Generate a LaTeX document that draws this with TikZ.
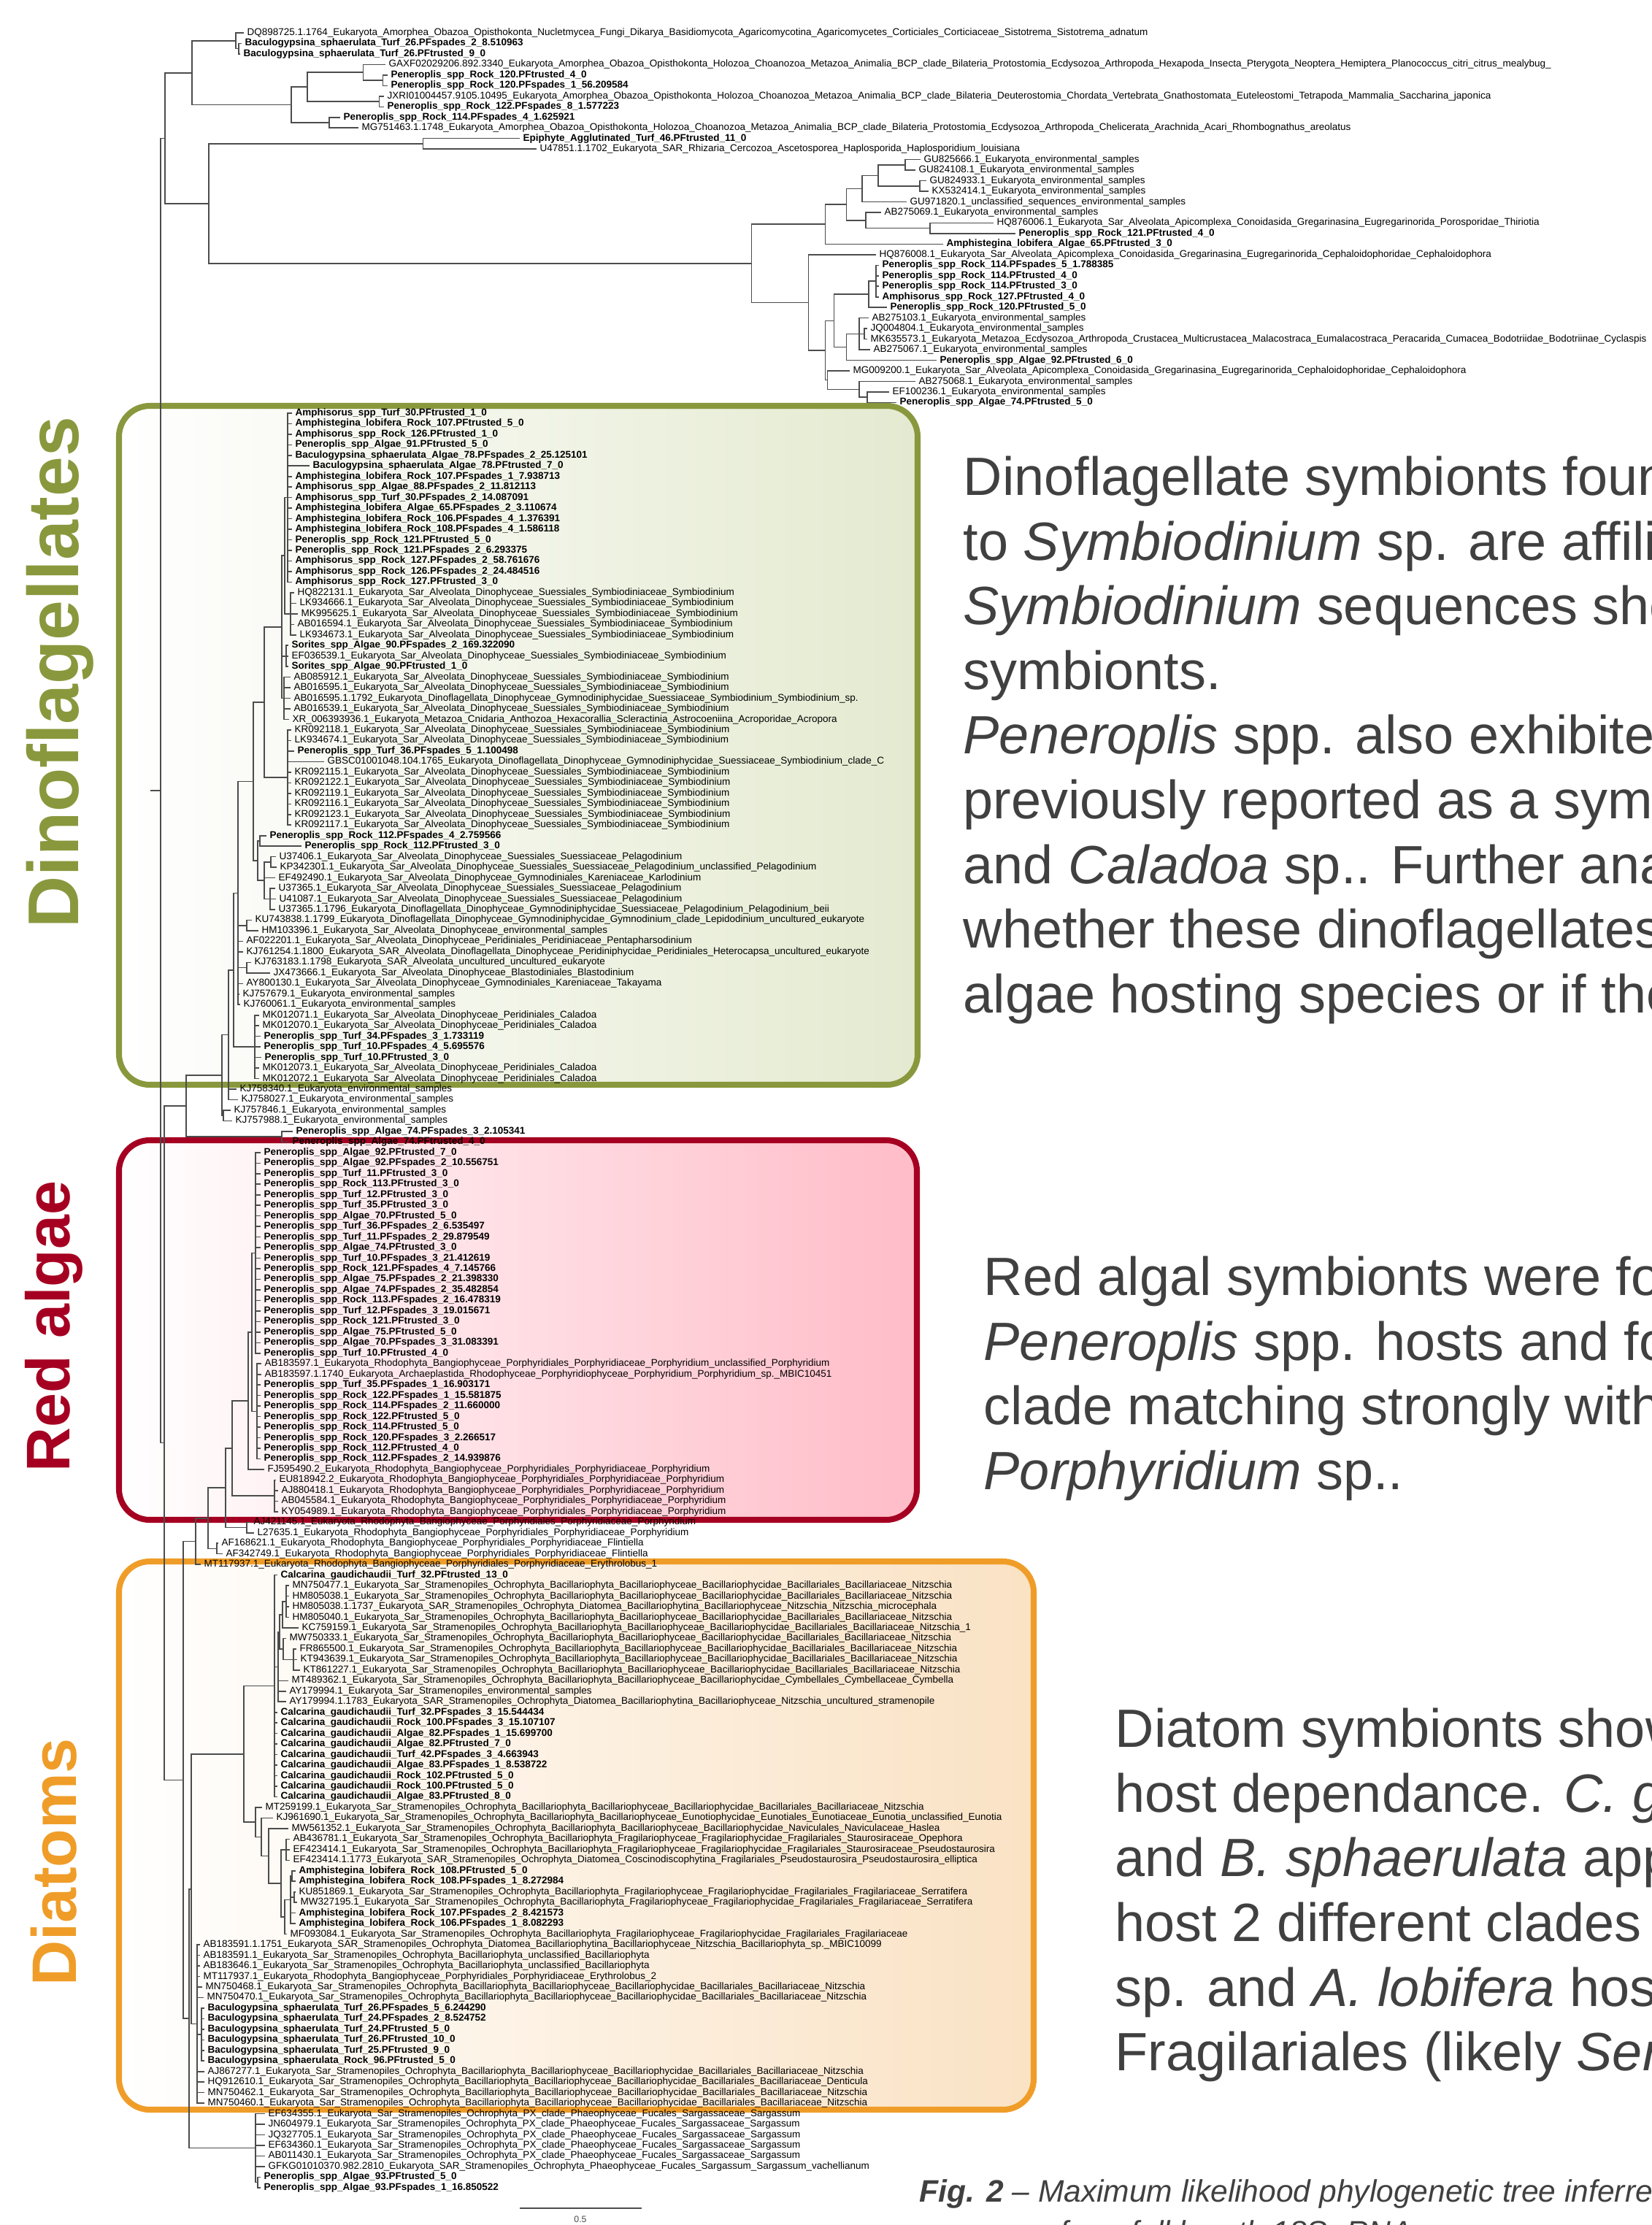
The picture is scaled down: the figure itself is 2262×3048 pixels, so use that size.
\documentclass[tikz,border=0pt]{standalone}
\usepackage{fontspec}
\setmainfont{Liberation Sans}
\usetikzlibrary{calc}

\definecolor{dinoline}{RGB}{137,152,61}
\definecolor{dinofill}{RGB}{228,234,208}
\definecolor{redline}{RGB}{165,0,33}
\definecolor{redfill}{RGB}{255,188,200}
\definecolor{dialine}{RGB}{239,157,40}
\definecolor{diafill}{RGB}{250,226,196}
\definecolor{textgray}{RGB}{64,64,64}

\tikzset{
  branch/.style={draw=black!70, line width=0.45pt},
  tipn/.style={anchor=west, inner sep=0pt, xshift=1.1pt, font=\fontsize{3.84}{4.6}\selectfont},
  tipb/.style={tipn, font=\fontsize{3.84}{4.6}\selectfont\bfseries},
  bigtext/.style={anchor=base west, inner sep=0pt, text=textgray, font=\fontsize{21}{25}\selectfont},
  captext/.style={anchor=base west, inner sep=0pt, text=textgray, font=\fontsize{12.1}{14}\selectfont\itshape},
  sidelab/.style={rotate=90, inner sep=0pt, font=\fontsize{28}{30}\selectfont\bfseries},
  scalelab/.style={inner sep=0pt, text=black!70, font=\fontsize{3.5}{4}\selectfont},
}

% tip: index, x of branch end, style, label
\newcommand\tip[4]{%
  \coordinate (t#1) at (#2,{45+(#1-1)*14.47});
  \node[#3] (l#1) at (t#1) {#4};}

% clade: name, x, children (first and last give the height)
\newcommand\clade[3]{%
  \foreach \cn [count=\ci] in {#3}{\ifnum\ci=1 \xdef\cladefirst{\cn}\fi\xdef\cladelast{\cn}}%
  \path let \p1=(\cladefirst), \p2=(\cladelast) in
    coordinate (#1) at ({#2*0.2845276pt},{(\y1+\y2)/2});
  \foreach \cn in {#3}{\draw[branch] (#1) |- (\cn);}}

\catcode`\_=12
\newcommand\EkEnv{Eukaryota_environmental_samples}
\newcommand\EkSym{Eukaryota_Sar_Alveolata_Dinophyceae_Suessiales_Symbiodiniaceae_Symbiodinium}
\newcommand\EkCal{Eukaryota_Sar_Alveolata_Dinophyceae_Peridiniales_Caladoa}
\newcommand\EkPor{Eukaryota_Rhodophyta_Bangiophyceae_Porphyridiales_Porphyridiaceae}
\newcommand\EkBac{Eukaryota_Sar_Stramenopiles_Ochrophyta_Bacillariophyta_Bacillariophyceae_Bacillariophycidae_Bacillariales_Bacillariaceae}
\newcommand\EkFra{Eukaryota_Sar_Stramenopiles_Ochrophyta_Bacillariophyta_Fragilariophyceae_Fragilariophycidae_Fragilariales}
\newcommand\EkSar{Eukaryota_Sar_Stramenopiles_Ochrophyta_PX_clade_Phaeophyceae_Fucales_Sargassaceae_Sargassum}

\begin{document}
\begin{tikzpicture}[x=0.01cm,y=-0.01cm]
\useasboundingbox (0,0) rectangle (2262,3048);
\clip (0,0) rectangle (2262,3048);
\fill[white] (0,0) rectangle (2262,3048);

% boxes
\shade[left color=white, right color=dinofill, rounded corners=12pt] (163,556) rectangle (1257,1486);
\draw[dinoline, line width=2.3pt, rounded corners=12pt] (163,556) rectangle (1257,1486);
\shade[left color=white, right color=redfill, rounded corners=12pt] (163,1562) rectangle (1256,2082);
\draw[redline, line width=2.3pt, rounded corners=12pt] (163,1562) rectangle (1256,2082);
\shade[left color=white, right color=diafill, rounded corners=12pt] (163,2139) rectangle (1416,2890);
\draw[dialine, line width=2.3pt, rounded corners=12pt] (163,2139) rectangle (1416,2890);

\node[sidelab, text=dinoline] (labDino) at (82,921) {Dinoflagellates};
\node[sidelab, text=redline, font=\fontsize{24}{26}\selectfont\bfseries] (labRed) at (74,1817) {Red algae};
\node[sidelab, text=dialine, font=\fontsize{24.5}{26}\selectfont\bfseries] (labDia) at (74,2551) {Diatoms};

% tips
\tip{1}{334}{tipn}{DQ898725.1.1764_Eukaryota_Amorphea_Obazoa_Opisthokonta_Nucletmycea_Fungi_Dikarya_Basidiomycota_Agaricomycotina_Agaricomycetes_Corticiales_Corticiaceae_Sistotrema_Sistotrema_adnatum}
\tip{2}{331}{tipb}{Baculogypsina_sphaerulata_Turf_26.PFspades_2_8.510963}
\tip{3}{329}{tipb}{Baculogypsina_sphaerulata_Turf_26.PFtrusted_9_0}
\tip{4}{528}{tipn}{GAXF02029206.892.3340_Eukaryota_Amorphea_Obazoa_Opisthokonta_Holozoa_Choanozoa_Metazoa_Animalia_BCP_clade_Bilateria_Protostomia_Ecdysozoa_Arthropoda_Hexapoda_Insecta_Pterygota_Neoptera_Hemiptera_Planococcus_citri_citrus_mealybug_}
\tip{5}{531}{tipb}{Peneroplis_spp_Rock_120.PFtrusted_4_0}
\tip{6}{531}{tipb}{Peneroplis_spp_Rock_120.PFspades_1_56.209584}
\tip{7}{526}{tipn}{JXRI01004457.9105.10495_Eukaryota_Amorphea_Obazoa_Opisthokonta_Holozoa_Choanozoa_Metazoa_Animalia_BCP_clade_Bilateria_Deuterostomia_Chordata_Vertebrata_Gnathostomata_Euteleostomi_Tetrapoda_Mammalia_Saccharina_japonica}
\tip{8}{526}{tipb}{Peneroplis_spp_Rock_122.PFspades_8_1.577223}
\tip{9}{466}{tipb}{Peneroplis_spp_Rock_114.PFspades_4_1.625921}
\tip{10}{491}{tipn}{MG751463.1.1748_Eukaryota_Amorphea_Obazoa_Opisthokonta_Holozoa_Choanozoa_Metazoa_Animalia_BCP_clade_Bilateria_Protostomia_Ecdysozoa_Arthropoda_Chelicerata_Arachnida_Acari_Rhombognathus_areolatus}
\tip{11}{712}{tipb}{Epiphyte_Agglutinated_Turf_46.PFtrusted_11_0}
\tip{12}{735}{tipn}{U47851.1.1702_Eukaryota_SAR_Rhizaria_Cercozoa_Ascetosporea_Haplosporida_Haplosporidium_louisiana}
\tip{13}{1261}{tipn}{GU825666.1_\EkEnv}
\tip{14}{1254}{tipn}{GU824108.1_\EkEnv}
\tip{15}{1269}{tipn}{GU824933.1_\EkEnv}
\tip{16}{1272}{tipn}{KX532414.1_\EkEnv}
\tip{17}{1242}{tipn}{GU971820.1_unclassified_sequences_environmental_samples}
\tip{18}{1207}{tipn}{AB275069.1_\EkEnv}
\tip{19}{1361}{tipn}{HQ876006.1_Eukaryota_Sar_Alveolata_Apicomplexa_Conoidasida_Gregarinasina_Eugregarinorida_Porosporidae_Thiriotia}
\tip{20}{1391}{tipb}{Peneroplis_spp_Rock_121.PFtrusted_4_0}
\tip{21}{1292}{tipb}{Amphistegina_lobifera_Algae_65.PFtrusted_3_0}
\tip{22}{1200}{tipn}{HQ876008.1_Eukaryota_Sar_Alveolata_Apicomplexa_Conoidasida_Gregarinasina_Eugregarinorida_Cephaloidophoridae_Cephaloidophora}
\tip{23}{1204}{tipb}{Peneroplis_spp_Rock_114.PFspades_5_1.788385}
\tip{24}{1204}{tipb}{Peneroplis_spp_Rock_114.PFtrusted_4_0}
\tip{25}{1204}{tipb}{Peneroplis_spp_Rock_114.PFtrusted_3_0}
\tip{26}{1204}{tipb}{Amphisorus_spp_Rock_127.PFtrusted_4_0}
\tip{27}{1215}{tipb}{Peneroplis_spp_Rock_120.PFtrusted_5_0}
\tip{28}{1190}{tipn}{AB275103.1_\EkEnv}
\tip{29}{1188}{tipn}{JQ004804.1_\EkEnv}
\tip{30}{1188}{tipn}{MK635573.1_Eukaryota_Metazoa_Ecdysozoa_Arthropoda_Crustacea_Multicrustacea_Malacostraca_Eumalacostraca_Peracarida_Cumacea_Bodotriidae_Bodotriinae_Cyclaspis}
\tip{31}{1192}{tipn}{AB275067.1_\EkEnv}
\tip{32}{1283}{tipb}{Peneroplis_spp_Algae_92.PFtrusted_6_0}
\tip{33}{1164}{tipn}{MG009200.1_Eukaryota_Sar_Alveolata_Apicomplexa_Conoidasida_Gregarinasina_Eugregarinorida_Cephaloidophoridae_Cephaloidophora}
\tip{34}{1254}{tipn}{AB275068.1_\EkEnv}
\tip{35}{1218}{tipn}{EF100236.1_\EkEnv}
\tip{36}{1228}{tipb}{Peneroplis_spp_Algae_74.PFtrusted_5_0}
\tip{37}{400}{tipb}{Amphisorus_spp_Turf_30.PFtrusted_1_0}
\tip{38}{400}{tipb}{Amphistegina_lobifera_Rock_107.PFtrusted_5_0}
\tip{39}{400}{tipb}{Amphisorus_spp_Rock_126.PFtrusted_1_0}
\tip{40}{400}{tipb}{Peneroplis_spp_Algae_91.PFtrusted_5_0}
\tip{41}{400}{tipb}{Baculogypsina_sphaerulata_Algae_78.PFspades_2_25.125101}
\tip{42}{424}{tipb}{Baculogypsina_sphaerulata_Algae_78.PFtrusted_7_0}
\tip{43}{400}{tipb}{Amphistegina_lobifera_Rock_107.PFspades_1_7.938713}
\tip{44}{400}{tipb}{Amphisorus_spp_Algae_88.PFspades_2_11.812113}
\tip{45}{400}{tipb}{Amphisorus_spp_Turf_30.PFspades_2_14.087091}
\tip{46}{400}{tipb}{Amphistegina_lobifera_Algae_65.PFspades_2_3.110674}
\tip{47}{400}{tipb}{Amphistegina_lobifera_Rock_106.PFspades_4_1.376391}
\tip{48}{400}{tipb}{Amphistegina_lobifera_Rock_108.PFspades_4_1.586118}
\tip{49}{400}{tipb}{Peneroplis_spp_Rock_121.PFtrusted_5_0}
\tip{50}{400}{tipb}{Peneroplis_spp_Rock_121.PFspades_2_6.293375}
\tip{51}{400}{tipb}{Amphisorus_spp_Rock_127.PFspades_2_58.761676}
\tip{52}{400}{tipb}{Amphisorus_spp_Rock_126.PFspades_2_24.484516}
\tip{53}{400}{tipb}{Amphisorus_spp_Rock_127.PFtrusted_3_0}
\tip{54}{403}{tipn}{HQ822131.1_\EkSym}
\tip{55}{406}{tipn}{LK934666.1_\EkSym}
\tip{56}{408}{tipn}{MK995625.1_\EkSym}
\tip{57}{403}{tipn}{AB016594.1_\EkSym}
\tip{58}{406}{tipn}{LK934673.1_\EkSym}
\tip{59}{395}{tipb}{Sorites_spp_Algae_90.PFspades_2_169.322090}
\tip{60}{395}{tipn}{EF036539.1_\EkSym}
\tip{61}{395}{tipb}{Sorites_spp_Algae_90.PFtrusted_1_0}
\tip{62}{398}{tipn}{AB085912.1_\EkSym}
\tip{63}{398}{tipn}{AB016595.1_\EkSym}
\tip{64}{398}{tipn}{AB016595.1.1792_Eukaryota_Dinoflagellata_Dinophyceae_Gymnodiniphycidae_Suessiaceae_Symbiodinium_Symbiodinium_sp.}
\tip{65}{398}{tipn}{AB016539.1_\EkSym}
\tip{66}{396}{tipn}{XR_006393936.1_Eukaryota_Metazoa_Cnidaria_Anthozoa_Hexacorallia_Scleractinia_Astrocoeniina_Acroporidae_Acropora}
\tip{67}{399}{tipn}{KR092118.1_\EkSym}
\tip{68}{399}{tipn}{LK934674.1_\EkSym}
\tip{69}{403}{tipb}{Peneroplis_spp_Turf_36.PFspades_5_1.100498}
\tip{70}{444}{tipn}{GBSC01001048.104.1765_Eukaryota_Dinoflagellata_Dinophyceae_Gymnodiniphycidae_Suessiaceae_Symbiodinium_clade_C}
\tip{71}{399}{tipn}{KR092115.1_\EkSym}
\tip{72}{399}{tipn}{KR092122.1_\EkSym}
\tip{73}{399}{tipn}{KR092119.1_\EkSym}
\tip{74}{399}{tipn}{KR092116.1_\EkSym}
\tip{75}{399}{tipn}{KR092123.1_\EkSym}
\tip{76}{399}{tipn}{KR092117.1_\EkSym}
\tip{77}{365}{tipb}{Peneroplis_spp_Rock_112.PFspades_4_2.759566}
\tip{78}{413}{tipb}{Peneroplis_spp_Rock_112.PFtrusted_3_0}
\tip{79}{378}{tipn}{U37406.1_Eukaryota_Sar_Alveolata_Dinophyceae_Suessiales_Suessiaceae_Pelagodinium}
\tip{80}{379}{tipn}{KP342301.1_Eukaryota_Sar_Alveolata_Dinophyceae_Suessiales_Suessiaceae_Pelagodinium_unclassified_Pelagodinium}
\tip{81}{377}{tipn}{EF492490.1_Eukaryota_Sar_Alveolata_Dinophyceae_Gymnodiniales_Kareniaceae_Karlodinium}
\tip{82}{377}{tipn}{U37365.1_Eukaryota_Sar_Alveolata_Dinophyceae_Suessiales_Suessiaceae_Pelagodinium}
\tip{83}{378}{tipn}{U41087.1_Eukaryota_Sar_Alveolata_Dinophyceae_Suessiales_Suessiaceae_Pelagodinium}
\tip{84}{377}{tipn}{U37365.1.1796_Eukaryota_Dinoflagellata_Dinophyceae_Gymnodiniphycidae_Suessiaceae_Pelagodinium_Pelagodinium_beii}
\tip{85}{345}{tipn}{KU743838.1.1799_Eukaryota_Dinoflagellata_Dinophyceae_Gymnodiniphycidae_Gymnodinium_clade_Lepidodinium_uncultured_eukaryote}
\tip{86}{354}{tipn}{HM103396.1_Eukaryota_Sar_Alveolata_Dinophyceae_environmental_samples}
\tip{87}{333}{tipn}{AF022201.1_Eukaryota_Sar_Alveolata_Dinophyceae_Peridiniales_Peridiniaceae_Pentapharsodinium}
\tip{88}{333}{tipn}{KJ761254.1.1800_Eukaryota_SAR_Alveolata_Dinoflagellata_Dinophyceae_Peridiniphycidae_Peridiniales_Heterocapsa_uncultured_eukaryote}
\tip{89}{344}{tipn}{KJ763183.1.1798_Eukaryota_SAR_Alveolata_uncultured_uncultured_eukaryote}
\tip{90}{370}{tipn}{JX473666.1_Eukaryota_Sar_Alveolata_Dinophyceae_Blastodiniales_Blastodinium}
\tip{91}{333}{tipn}{AY800130.1_Eukaryota_Sar_Alveolata_Dinophyceae_Gymnodiniales_Kareniaceae_Takayama}
\tip{92}{328}{tipn}{KJ757679.1_\EkEnv}
\tip{93}{329}{tipn}{KJ760061.1_\EkEnv}
\tip{94}{355}{tipn}{MK012071.1_\EkCal}
\tip{95}{355}{tipn}{MK012070.1_\EkCal}
\tip{96}{357}{tipb}{Peneroplis_spp_Turf_34.PFspades_3_1.733119}
\tip{97}{357}{tipb}{Peneroplis_spp_Turf_10.PFspades_4_5.695576}
\tip{98}{358}{tipb}{Peneroplis_spp_Turf_10.PFtrusted_3_0}
\tip{99}{355}{tipn}{MK012073.1_\EkCal}
\tip{100}{355}{tipn}{MK012072.1_\EkCal}
\tip{101}{324}{tipn}{KJ758340.1_\EkEnv}
\tip{102}{326}{tipn}{KJ758027.1_\EkEnv}
\tip{103}{316}{tipn}{KJ757846.1_\EkEnv}
\tip{104}{318}{tipn}{KJ757988.1_\EkEnv}
\tip{105}{401}{tipb}{Peneroplis_spp_Algae_74.PFspades_3_2.105341}
\tip{106}{396}{tipb}{Peneroplis_spp_Algae_74.PFtrusted_4_0}
\tip{107}{357}{tipb}{Peneroplis_spp_Algae_92.PFtrusted_7_0}
\tip{108}{357}{tipb}{Peneroplis_spp_Algae_92.PFspades_2_10.556751}
\tip{109}{357}{tipb}{Peneroplis_spp_Turf_11.PFtrusted_3_0}
\tip{110}{357}{tipb}{Peneroplis_spp_Rock_113.PFtrusted_3_0}
\tip{111}{357}{tipb}{Peneroplis_spp_Turf_12.PFtrusted_3_0}
\tip{112}{357}{tipb}{Peneroplis_spp_Turf_35.PFtrusted_3_0}
\tip{113}{357}{tipb}{Peneroplis_spp_Algae_70.PFtrusted_5_0}
\tip{114}{357}{tipb}{Peneroplis_spp_Turf_36.PFspades_2_6.535497}
\tip{115}{357}{tipb}{Peneroplis_spp_Turf_11.PFspades_2_29.879549}
\tip{116}{357}{tipb}{Peneroplis_spp_Algae_74.PFtrusted_3_0}
\tip{117}{357}{tipb}{Peneroplis_spp_Turf_10.PFspades_3_21.412619}
\tip{118}{357}{tipb}{Peneroplis_spp_Rock_121.PFspades_4_7.145766}
\tip{119}{357}{tipb}{Peneroplis_spp_Algae_75.PFspades_2_21.398330}
\tip{120}{357}{tipb}{Peneroplis_spp_Algae_74.PFspades_2_35.482854}
\tip{121}{357}{tipb}{Peneroplis_spp_Rock_113.PFspades_2_16.478319}
\tip{122}{357}{tipb}{Peneroplis_spp_Turf_12.PFspades_3_19.015671}
\tip{123}{357}{tipb}{Peneroplis_spp_Rock_121.PFtrusted_3_0}
\tip{124}{357}{tipb}{Peneroplis_spp_Algae_75.PFtrusted_5_0}
\tip{125}{357}{tipb}{Peneroplis_spp_Algae_70.PFspades_3_31.083391}
\tip{126}{357}{tipb}{Peneroplis_spp_Turf_10.PFtrusted_4_0}
\tip{127}{358}{tipn}{AB183597.1_\EkPor_Porphyridium_unclassified_Porphyridium}
\tip{128}{358}{tipn}{AB183597.1.1740_Eukaryota_Archaeplastida_Rhodophyceae_Porphyridiophyceae_Porphyridium_Porphyridium_sp._MBIC10451}
\tip{129}{357}{tipb}{Peneroplis_spp_Turf_35.PFspades_1_16.903171}
\tip{130}{357}{tipb}{Peneroplis_spp_Rock_122.PFspades_1_15.581875}
\tip{131}{357}{tipb}{Peneroplis_spp_Rock_114.PFspades_2_11.660000}
\tip{132}{357}{tipb}{Peneroplis_spp_Rock_122.PFtrusted_5_0}
\tip{133}{357}{tipb}{Peneroplis_spp_Rock_114.PFtrusted_5_0}
\tip{134}{357}{tipb}{Peneroplis_spp_Rock_120.PFspades_3_2.266517}
\tip{135}{357}{tipb}{Peneroplis_spp_Rock_112.PFtrusted_4_0}
\tip{136}{357}{tipb}{Peneroplis_spp_Rock_112.PFspades_2_14.939876}
\tip{137}{362}{tipn}{FJ595490.2_\EkPor_Porphyridium}
\tip{138}{378}{tipn}{EU818942.2_\EkPor_Porphyridium}
\tip{139}{381}{tipn}{AJ880418.1_\EkPor_Porphyridium}
\tip{140}{381}{tipn}{AB045584.1_\EkPor_Porphyridium}
\tip{141}{381}{tipn}{KY054989.1_\EkPor_Porphyridium}
\tip{142}{343}{tipn}{AJ421145.1_\EkPor_Porphyridium}
\tip{143}{348}{tipn}{L27635.1_\EkPor_Porphyridium}
\tip{144}{299}{tipn}{AF168621.1_\EkPor_Flintiella}
\tip{145}{305}{tipn}{AF342749.1_\EkPor_Flintiella}
\tip{146}{275}{tipn}{MT117937.1_\EkPor_Erythrolobus_1}
\tip{147}{380}{tipb}{Calcarina_gaudichaudii_Turf_32.PFtrusted_13_0}
\tip{148}{396}{tipn}{MN750477.1_\EkBac_Nitzschia}
\tip{149}{396}{tipn}{HM805038.1_\EkBac_Nitzschia}
\tip{150}{396}{tipn}{HM805038.1.1737_Eukaryota_SAR_Stramenopiles_Ochrophyta_Diatomea_Bacillariophytina_Bacillariophyceae_Nitzschia_Nitzschia_microcephala}
\tip{151}{396}{tipn}{HM805040.1_\EkBac_Nitzschia}
\tip{152}{409}{tipn}{KC759159.1_\EkBac_Nitzschia_1}
\tip{153}{392}{tipn}{MW750333.1_\EkBac_Nitzschia}
\tip{154}{406}{tipn}{FR865500.1_\EkBac_Nitzschia}
\tip{155}{407}{tipn}{KT943639.1_\EkBac_Nitzschia}
\tip{156}{411}{tipn}{KT861227.1_\EkBac_Nitzschia}
\tip{157}{395}{tipn}{MT489362.1_Eukaryota_Sar_Stramenopiles_Ochrophyta_Bacillariophyta_Bacillariophyceae_Bacillariophycidae_Cymbellales_Cymbellaceae_Cymbella}
\tip{158}{392}{tipn}{AY179994.1_Eukaryota_Sar_Stramenopiles_environmental_samples}
\tip{159}{392}{tipn}{AY179994.1.1783_Eukaryota_SAR_Stramenopiles_Ochrophyta_Diatomea_Bacillariophytina_Bacillariophyceae_Nitzschia_uncultured_stramenopile}
\tip{160}{380}{tipb}{Calcarina_gaudichaudii_Turf_32.PFspades_3_15.544434}
\tip{161}{380}{tipb}{Calcarina_gaudichaudii_Rock_100.PFspades_3_15.107107}
\tip{162}{380}{tipb}{Calcarina_gaudichaudii_Algae_82.PFspades_1_15.699700}
\tip{163}{380}{tipb}{Calcarina_gaudichaudii_Algae_82.PFtrusted_7_0}
\tip{164}{380}{tipb}{Calcarina_gaudichaudii_Turf_42.PFspades_3_4.663943}
\tip{165}{380}{tipb}{Calcarina_gaudichaudii_Algae_83.PFspades_1_8.538722}
\tip{166}{380}{tipb}{Calcarina_gaudichaudii_Rock_102.PFtrusted_5_0}
\tip{167}{380}{tipb}{Calcarina_gaudichaudii_Rock_100.PFtrusted_5_0}
\tip{168}{380}{tipb}{Calcarina_gaudichaudii_Algae_83.PFtrusted_8_0}
\tip{169}{359}{tipn}{MT259199.1_\EkBac_Nitzschia}
\tip{170}{374}{tipn}{KJ961690.1_Eukaryota_Sar_Stramenopiles_Ochrophyta_Bacillariophyta_Bacillariophyceae_Eunotiophycidae_Eunotiales_Eunotiaceae_Eunotia_unclassified_Eunotia}
\tip{171}{395}{tipn}{MW561352.1_Eukaryota_Sar_Stramenopiles_Ochrophyta_Bacillariophyta_Bacillariophyceae_Bacillariophycidae_Naviculales_Naviculaceae_Haslea}
\tip{172}{397}{tipn}{AB436781.1_\EkFra_Staurosiraceae_Opephora}
\tip{173}{397}{tipn}{EF423414.1_\EkFra_Staurosiraceae_Pseudostaurosira}
\tip{174}{397}{tipn}{EF423414.1.1773_Eukaryota_SAR_Stramenopiles_Ochrophyta_Diatomea_Coscinodiscophytina_Fragilariales_Pseudostaurosira_Pseudostaurosira_elliptica}
\tip{175}{405}{tipb}{Amphistegina_lobifera_Rock_108.PFtrusted_5_0}
\tip{176}{405}{tipb}{Amphistegina_lobifera_Rock_108.PFspades_1_8.272984}
\tip{177}{405}{tipn}{KU851869.1_\EkFra_Fragilariaceae_Serratifera}
\tip{178}{407}{tipn}{MW327195.1_\EkFra_Fragilariaceae_Serratifera}
\tip{179}{405}{tipb}{Amphistegina_lobifera_Rock_107.PFspades_2_8.421573}
\tip{180}{405}{tipb}{Amphistegina_lobifera_Rock_106.PFspades_1_8.082293}
\tip{181}{393}{tipn}{MF093084.1_\EkFra_Fragilariaceae}
\tip{182}{274}{tipn}{AB183591.1.1751_Eukaryota_SAR_Stramenopiles_Ochrophyta_Diatomea_Bacillariophytina_Bacillariophyceae_Nitzschia_Bacillariophyta_sp._MBIC10099}
\tip{183}{274}{tipn}{AB183591.1_Eukaryota_Sar_Stramenopiles_Ochrophyta_Bacillariophyta_unclassified_Bacillariophyta}
\tip{184}{274}{tipn}{AB183646.1_Eukaryota_Sar_Stramenopiles_Ochrophyta_Bacillariophyta_unclassified_Bacillariophyta}
\tip{185}{274}{tipn}{MT117937.1_\EkPor_Erythrolobus_2}
\tip{186}{277}{tipn}{MN750468.1_\EkBac_Nitzschia}
\tip{187}{279}{tipn}{MN750470.1_\EkBac_Nitzschia}
\tip{188}{280}{tipb}{Baculogypsina_sphaerulata_Turf_26.PFspades_5_6.244290}
\tip{189}{280}{tipb}{Baculogypsina_sphaerulata_Turf_24.PFspades_2_8.524752}
\tip{190}{280}{tipb}{Baculogypsina_sphaerulata_Turf_24.PFtrusted_5_0}
\tip{191}{280}{tipb}{Baculogypsina_sphaerulata_Turf_26.PFtrusted_10_0}
\tip{192}{280}{tipb}{Baculogypsina_sphaerulata_Turf_25.PFtrusted_9_0}
\tip{193}{280}{tipb}{Baculogypsina_sphaerulata_Rock_96.PFtrusted_5_0}
\tip{194}{280}{tipn}{AJ867277.1_\EkBac_Nitzschia}
\tip{195}{280}{tipn}{HQ912610.1_\EkBac_Denticula}
\tip{196}{280}{tipn}{MN750462.1_\EkBac_Nitzschia}
\tip{197}{280}{tipn}{MN750460.1_\EkBac_Nitzschia}
\tip{198}{363}{tipn}{EF634355.1_\EkSar}
\tip{199}{363}{tipn}{JN604979.1_\EkSar}
\tip{200}{363}{tipn}{JQ327705.1_\EkSar}
\tip{201}{363}{tipn}{EF634360.1_\EkSar}
\tip{202}{363}{tipn}{AB011430.1_\EkSar}
\tip{203}{363}{tipn}{GFKG01010370.982.2810_Eukaryota_SAR_Stramenopiles_Ochrophyta_Phaeophyceae_Fucales_Sargassum_Sargassum_vachellianum}
\tip{204}{357}{tipb}{Peneroplis_spp_Algae_93.PFtrusted_5_0}
\tip{205}{357}{tipb}{Peneroplis_spp_Algae_93.PFspades_1_16.850522}

% upper clades
\clade{nBac}{327}{t2,t3}
\clade{nDQ}{323}{t1,nBac}
\clade{nRa}{524}{t5,t6}
\clade{nGAXF}{497}{t4,nRa}
\clade{nJX}{519}{t7,t8}
\clade{nMetaA}{421}{nGAXF,nJX}
\clade{nMetaB}{451}{t9,t10}
\clade{nMeta}{399}{nMetaA,nMetaB}
\clade{nTopA}{263}{nDQ,nMeta}
\clade{nEpi}{579}{t11,t12}
\clade{nGUa}{1239}{t13,t14}
\clade{nGUb}{1259}{t15,t16}
\clade{nGUc}{1202}{nGUa,nGUb}
\clade{nGUd}{1180}{nGUc,t17}
\clade{nHQa}{1273}{t19,t20}
\clade{nGUe}{1185}{t18,nHQa}
\clade{nGUf}{1159}{nGUd,nGUe}
\clade{nGU}{1130}{nGUf,t21}
\clade{nRfour}{1199}{t23,t24,t25,t26}
\clade{nRfive}{1189}{nRfour,t27}
\clade{nJQ}{1183}{t29,t30}
\clade{nABx}{1176}{t28,nJQ,t31}
\clade{nABy}{1159}{nABx,t32}
\clade{nLowA}{1142}{nRfive,nABy}
\clade{nEF}{1187}{t35,t36}
\clade{nABz}{1176}{t34,nEF}
\clade{nMG}{1133}{t33,nABz}
\clade{nLowB}{1130}{nLowA,nMG}
\clade{nLow}{1107}{t22,nLowB}
\clade{nGreg}{1029}{nGU,nLow}
\clade{nTopB}{286}{nEpi,nGreg}
\clade{nTop}{226}{nTopA,nTopB}

% dinoflagellates
\clade{nSymA}{394}{t37,t38,t39,t40,t41,t42,t43,t44,t45,t46,t47,t48,t49,t50,t51,t52,t53}
\clade{nSymB}{398}{t54,t55,t56,t57,t58}
\clade{nSymC}{390}{nSymA,nSymB}
\clade{nSor}{392}{t59,t60,t61}
\clade{nSymD}{389}{t62,t63,t64,t65,t66}
\clade{nSymE}{386}{nSymC,nSor,nSymD}
\clade{nKR}{394}{t67,t68,t69,t70,t71,t72,t73,t74,t75,t76}
\clade{nSymF}{362}{nSymE,nKR}
\clade{nRtwelve}{356}{t77,t78}
\clade{nPelA}{371}{t79,t80}
\clade{nPelB}{370}{t82,t83,t84}
\clade{nPel}{362}{nPelA,t81,nPelB}
\clade{nPelR}{353}{nRtwelve,nPel}
\clade{nSymG}{347}{nSymF,nPelR}
\clade{nKU}{338}{t85,t86}
\clade{nKJs}{338}{t89,t90}
\clade{nDinA}{326}{nSymG,nKU,t87,t88,nKJs,t91,t92,t93}
\clade{nCal}{349}{t94,t95,t96,t97,t98,t99,t100}
\clade{nDinB}{320}{nDinA,nCal}
\clade{nDinC}{313}{nDinB,t101,t102}
\clade{nKJb}{306}{t103,t104}
\clade{nDinD}{304}{nDinC,nKJb}
\clade{nPAs}{386}{t105,t106}
\clade{nMid}{255}{nDinD,nPAs}

% red algae
\clade{nRedA}{350}{t107,t108,t109,t110,t111,t112,t113,t114,t115,t116,t117,t118,t119,t120,t121,t122,t123,t124,t125,t126}
\clade{nRedB}{352}{t127,t128,t129,t130,t131,t132,t133,t134,t135,t136}
\clade{nRedC}{345}{nRedA,nRedB}
\clade{nRedD}{340}{nRedC,t137}
\clade{nPor}{376}{t138,t139,t140,t141}
\clade{nRedE}{318}{nRedD,nPor}
\clade{nAJ}{338}{t142,t143}
\clade{nRedF}{309}{nRedE,nAJ}
\clade{nFl}{297}{t144,t145}
\clade{nRedG}{285}{nRedF,nFl}
\clade{nRedH}{268}{nRedG,t146}

% diatoms
\clade{nNzA}{392}{t148,t149,t150,t151}
\clade{nNzB}{387}{nNzA,t152}
\clade{nNzC}{402}{t154,t155,t156}
\clade{nNzD}{388}{t153,nNzC}
\clade{nNzE}{383}{nNzB,nNzD}
\clade{nNzF}{381}{nNzE,t157,t158,t159}
\clade{nCalc}{376}{t147,nNzF,t160,t161,t162,t163,t164,t165,t166,t167,t168}
\clade{nFrA}{392}{t172,t173,t174}
\clade{nSerA}{400}{t175,t176}
\clade{nSerB}{403}{t177,t178}
\clade{nSerC}{398}{nSerA,nSerB,t179,t180}
\clade{nSerD}{390}{nSerC,t181}
\clade{nFrB}{385}{nFrA,nSerD}
\clade{nFrC}{368}{t171,nFrB}
\clade{nFrD}{358}{t170,nFrC}
\clade{nFrE}{350}{t169,nFrD}
\clade{nDiaA}{334}{nCalc,nFrE}
\clade{nBacB}{276}{t188,t189,t190,t191,t192,t193}
\clade{nDiaB}{270}{t182,t183,t184,t185,t186,t187,nBacB,t194,t195,t196,t197}
\clade{nDiaC}{262}{nDiaA,nDiaB}
\clade{nPAn}{353}{t204,t205}
\clade{nSarg}{350}{t198,t199,t200,t201,t202,t203,nPAn}
\clade{nDiaD}{259}{nDiaC,nSarg}
\clade{nLowRD}{251}{nRedH,nDiaD}
\clade{nBase}{225}{nMid,nLowRD}
\clade{nRootA}{220}{nTop,nBase}
\coordinate (root) at ($(nRootA)+(-14,0)$);
\draw[branch] (root) -- (nRootA);

% scale bar
\coordinate (sbA) at (712,3025);
\coordinate (sbB) at (879,3025);
\draw[branch] (sbA) -- (sbB);
\node[scalelab] (sbLab) at (795,3040) {0.5};

% text panels
\node[bigtext] (dinoA) at (1319,678) {Dinoflagellate symbionts found};
\node[bigtext] (dinoB) at (1319,767) {to \textit{Symbiodinium} sp. are affiliated};
\node[bigtext] (dinoC) at (1319,855) {\textit{Symbiodinium} sequences show};
\node[bigtext] (dinoD) at (1319,944) {symbionts.};
\node[bigtext] (dinoE) at (1319,1032) {\textit{Peneroplis} spp. also exhibited};
\node[bigtext] (dinoF) at (1319,1121) {previously reported as a symbiont};
\node[bigtext] (dinoG) at (1319,1210) {and \textit{Caladoa} sp.. Further analysis};
\node[bigtext] (dinoH) at (1319,1298) {whether these dinoflagellates};
\node[bigtext] (dinoI) at (1319,1387) {algae hosting species or if they};

\node[bigtext] (redA) at (1347,1774) {Red algal symbionts were found};
\node[bigtext] (redB) at (1347,1863) {\textit{Peneroplis} spp. hosts and form};
\node[bigtext] (redC) at (1347,1951) {clade matching strongly with};
\node[bigtext] (redD) at (1347,2040) {\textit{Porphyridium} sp..};

\node[bigtext] (diaA) at (1527,2393) {Diatom symbionts show};
\node[bigtext] (diaB) at (1527,2482) {host dependance. \textit{C. gaudichaudii}};
\node[bigtext] (diaC) at (1527,2570) {and \textit{B. sphaerulata} appear};
\node[bigtext] (diaD) at (1527,2659) {host 2 different clades};
\node[bigtext] (diaE) at (1527,2748) {sp. and \textit{A. lobifera} host};
\node[bigtext] (diaF) at (1527,2836) {Fragilariales (likely \textit{Serratifera}};

\node[captext] (capA) at (1259,3016) {\textbf{Fig. 2} -- Maximum likelihood phylogenetic tree inferred};
\node[captext] (capB) at (1451,3072) {from full length 18S rRNA};
\end{tikzpicture}
\end{document}
